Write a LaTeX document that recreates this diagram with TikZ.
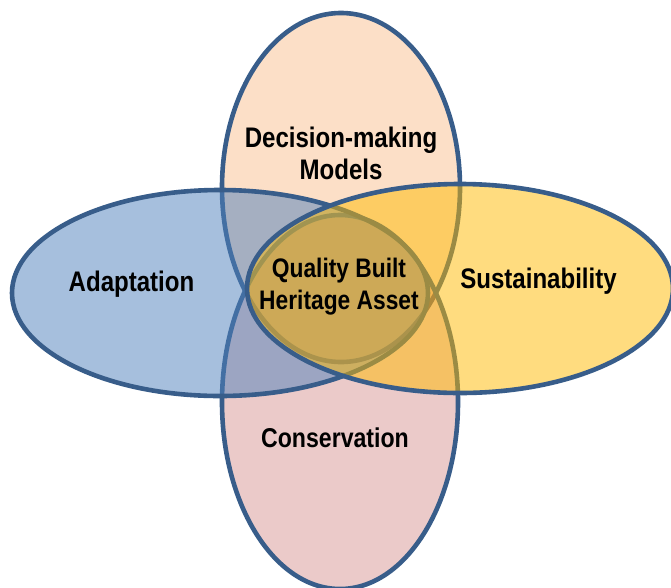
\documentclass[tikz,border=0pt]{standalone}
\usepackage{fontspec}
\setmainfont[FakeStretch=0.85]{Liberation Sans}
\usetikzlibrary{shapes.geometric}
\definecolor{edge}{RGB}{56,93,138}
\definecolor{peach}{RGB}{247,150,70}
\definecolor{rosy}{RGB}{192,80,77}
\definecolor{sky}{RGB}{79,129,189}
\definecolor{amber}{RGB}{255,186,0}
\tikzset{
  petal/.style={ellipse,draw=edge,line width=4.6pt,inner sep=0pt},
  lab/.style={font=\bfseries\fontsize{#1}{32}\selectfont,align=center,text=black,inner sep=0pt}
}
\begin{document}
\begin{tikzpicture}[x=1pt,y=-1pt]
\useasboundingbox (0,0) rectangle (671,587);
\fill[white] (0,0) rectangle (671,587);
\begin{scope}
\clip (0,0) rectangle (671,587);
\node[petal,fill=peach,fill opacity=0.3,minimum width=238pt,minimum height=349pt] (top) at (341,187.5) {};
\node[petal,fill=rosy,fill opacity=0.3,minimum width=236pt,minimum height=374pt] (bottom) at (340,402) {};
\node[petal,fill=sky,fill opacity=0.5,minimum width=416pt,minimum height=206pt] (left) at (220,293) {};
\node[petal,fill=amber,fill opacity=0.5,minimum width=426pt,minimum height=209pt] (right) at (460,288.5) {};
\end{scope}
\node[lab=28.3] (tl) at (341,153.5) {Decision-making\\Models};
\node[lab=28.3] (ll) at (131.5,284) {Adaptation};
\node[lab=28.3] (rl) at (538.5,281) {Sustainability};
\node[lab=27.2] (bl) at (335,438) {Conservation};
\node[lab=26.8] (cl) at (339,286.5) {Quality Built\\Heritage Asset};
\end{tikzpicture}
\end{document}
